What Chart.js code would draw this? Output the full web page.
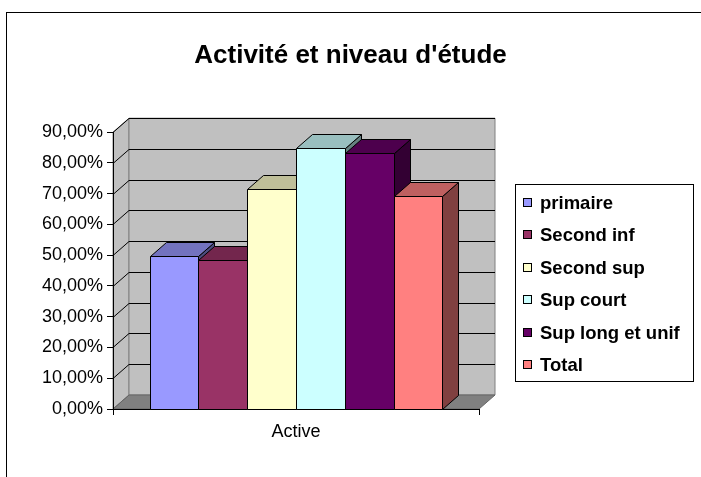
<!DOCTYPE html>
<html>
<head>
<meta charset="utf-8">
<script src="https://cdn.jsdelivr.net/npm/chart.js@4"></script>
<style>
  body { margin: 0; background: #fff; }
  canvas { display: block; }
</style>
</head>
<body>
<canvas id="myChart" width="701" height="477"></canvas>
<script>
// data
const categories = ['Active'];
const seriesNames = ['primaire', 'Second inf', 'Second sup', 'Sup court', 'Sup long et unif', 'Total'];
const seriesValues = [49.6, 48.6, 71.5, 84.9, 83.1, 69.2];
const seriesColors = ['#9999FF', '#993366', '#FFFFCC', '#CCFFFF', '#660066', '#FF8080'];
const yMax = 90;
const yStep = 10;

const FONT = "'Liberation Sans', Arial, sans-serif";
const depthX = 16;
const depthY = -14;

function shade(hex, f) {
    const n = parseInt(hex.slice(1), 16);
    const r = Math.round(((n >> 16) & 255) * f);
    const g = Math.round(((n >> 8) & 255) * f);
    const b = Math.round((n & 255) * f);
    return `rgb(${r},${g},${b})`;
}

function poly(ctx, pts, fill, stroke) {
    ctx.beginPath();
    ctx.moveTo(pts[0][0], pts[0][1]);
    for (let i = 1; i < pts.length; i++) ctx.lineTo(pts[i][0], pts[i][1]);
    ctx.closePath();
    ctx.fillStyle = fill;
    ctx.fill();
    if (stroke) {
        ctx.strokeStyle = stroke;
        ctx.stroke();
    }
}

// frame, walls, floor and back gridlines
const wallsPlugin = {
    id: 'walls',
    beforeDraw(chart) {
        const ctx = chart.ctx;
        const { left, right, top, bottom } = chart.chartArea;
        const yScale = chart.scales.y;
        ctx.save();
        ctx.lineWidth = 1;

        ctx.strokeStyle = '#000';
        ctx.strokeRect(6.5, 12.5, 900, 700);

        // side wall
        poly(ctx, [[left, top], [left + depthX, top + depthY], [left + depthX, bottom + depthY], [left, bottom]], '#c0c0c0', '#808080');
        // back wall
        poly(ctx, [[left + depthX, top + depthY], [right + depthX, top + depthY], [right + depthX, bottom + depthY], [left + depthX, bottom + depthY]], '#c0c0c0', '#808080');

        // gridlines
        ctx.strokeStyle = '#000';
        for (let v = 0; v <= yMax; v += yStep) {
            const y = Math.round(yScale.getPixelForValue(v)) + 0.5;
            ctx.beginPath();
            ctx.moveTo(left, y);
            ctx.lineTo(left + depthX, y + depthY);
            ctx.lineTo(right + depthX, y + depthY);
            ctx.stroke();
        }

        // floor
        poly(ctx, [[left, bottom], [right, bottom], [right + depthX, bottom + depthY], [left + depthX, bottom + depthY]], '#808080', '#666');
        ctx.restore();
    },
    beforeDatasetsDraw(chart) {
        const ctx = chart.ctx;
        ctx.save();
        ctx.lineWidth = 1;
        ctx.lineJoin = 'miter';
        chart.data.datasets.forEach((ds, i) => {
            const el = chart.getDatasetMeta(i).data[0];
            const p = el.getProps(['x', 'y', 'base', 'width'], true);
            const l = Math.round(p.x - p.width / 2) + 0.5;
            const r = Math.round(p.x + p.width / 2) + 0.5;
            const t = Math.round(p.y) + 0.5;
            const b = Math.round(p.base) + 0.5;
            const c = seriesColors[i];
            poly(ctx, [[r, t], [r + depthX, t + depthY], [r + depthX, b + depthY], [r, b]], shade(c, 0.5), '#000');
            poly(ctx, [[l, t], [r, t], [r + depthX, t + depthY], [l + depthX, t + depthY]], shade(c, 0.75), '#000');
            poly(ctx, [[l, t], [r, t], [r, b], [l, b]], c, '#000');
        });
        ctx.restore();
        return false;
    },
    afterDraw(chart) {
        const ctx = chart.ctx;
        ctx.save();
        ctx.lineWidth = 1;
        ctx.strokeStyle = '#000';
        ctx.strokeRect(515.5, 184.5, 178, 197);
        ctx.font = `bold 18.5px ${FONT}`;
        ctx.textBaseline = 'middle';
        ctx.textAlign = 'left';
        chart.data.datasets.forEach((ds, i) => {
            const cy = Math.round(203 + i * 32.4);
            ctx.fillStyle = seriesColors[i];
            ctx.fillRect(523, cy - 5, 9, 9);
            ctx.strokeRect(523.5, cy - 4.5, 8, 8);
            ctx.fillStyle = '#000';
            ctx.fillText(ds.label, 540, cy + 1);
        });
        ctx.restore();
    }
};

new Chart(document.getElementById('myChart'), {
    type: 'bar',
    data: {
        labels: categories,
        datasets: seriesNames.map((name, i) => ({
            label: name,
            data: [seriesValues[i]],
            backgroundColor: seriesColors[i],
            borderColor: '#000',
            borderWidth: 1,
            categoryPercentage: 0.8,
            barPercentage: 1
        }))
    },
    options: {
        responsive: false,
        animation: false,
        layout: { padding: 0 },
        plugins: {
            legend: { display: false },
            tooltip: { enabled: false },
            title: {
                display: true,
                text: "Activité et niveau d'étude",
                color: '#000',
                font: { family: FONT, size: 26, weight: 'bold' },
                padding: { top: 40, bottom: 61 }
            }
        },
        scales: {
            x: {
                grid: { drawOnChartArea: false, color: '#000', tickLength: 6 },
                border: { color: '#000' },
                ticks: { color: '#000', padding: 6, font: { family: FONT, size: 18 } },
                afterFit: (s) => { s.height = 68; }
            },
            y: {
                min: 0,
                max: yMax,
                grid: { drawOnChartArea: false, color: '#000', tickLength: 6 },
                border: { color: '#000' },
                ticks: {
                    stepSize: yStep,
                    autoSkip: false,
                    color: '#000',
                    padding: 4,
                    font: { family: FONT, size: 18 },
                    callback: (v) => v.toFixed(2).replace('.', ',') + '%'
                },
                afterFit: (s) => { s.width = 113; }
            },
            legendSpace: {
                type: 'linear',
                position: 'right',
                ticks: { display: false },
                grid: { display: false },
                border: { display: false },
                afterFit: (s) => { s.width = 222; }
            }
        }
    },
    plugins: [wallsPlugin]
});
</script>
</body>
</html>
